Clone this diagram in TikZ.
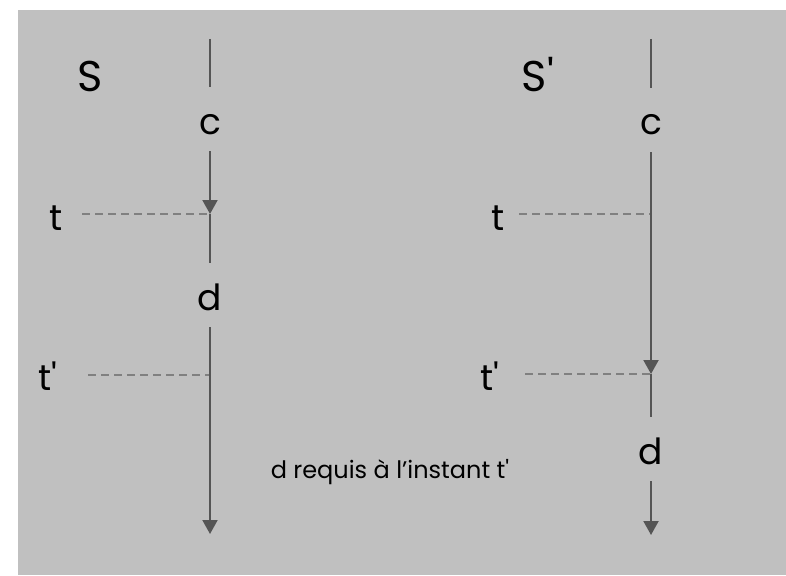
\documentclass[tikz,border=0pt]{standalone}
\usepackage{fontspec}
\setmainfont{Poppins}
\usetikzlibrary{arrows.meta}
\definecolor{bggray}{HTML}{C0C0C0}
\definecolor{linegray}{HTML}{555555}
\definecolor{dashgray}{HTML}{808080}
\begin{document}
\begin{tikzpicture}[x=1pt,y=-1pt,
  axis/.style={draw=linegray,line width=2pt},
  arr/.style={axis,-{Triangle[length=14pt,width=15pt]}},
  dashln/.style={draw=dashgray,line width=2pt,dash pattern=on 8pt off 5pt},
  lbl/.style={inner sep=0pt,outer sep=0pt,text depth=0pt,anchor=base,font=\fontsize{36}{36}\selectfont},
  biglbl/.style={lbl,font=\fontsize{43}{43}\selectfont},
  small/.style={inner sep=0pt,anchor=base,font=\fontsize{24}{24}\selectfont}]
\useasboundingbox (0,0) rectangle (786,575);
\fill[bggray] (18,10) rectangle (786,575);
% titles
\node[biglbl] (SL) at (90,92) {S};
\node[biglbl] (SR) at (538,92) {S\textquotesingle};
% left axis
\coordinate (L0) at (210,39);
\node[lbl,text height=19pt] (cL) at (210,134) {c};
\coordinate (tL) at (210,214);
\node[lbl,text height=30pt] (dL) at (210,310) {d};
\coordinate (tpL) at (210,375);
\coordinate (L1) at (210,534);
\node[lbl,text height=23pt] (tlabL) at (56,230) {t};
\node[lbl,text height=23pt] (tplabL) at (48,390) {t\textquotesingle};
\coordinate (dsL) at (82,214);
\coordinate (dspL) at (88,375);
% right axis
\coordinate (R0) at (651,39);
\node[lbl,text height=19pt] (cR) at (651,135) {c};
\coordinate (tR) at (651,214);
\coordinate (tpR) at (651,374);
\node[lbl,text height=30pt] (dR) at (651,464) {d};
\coordinate (R1) at (651,535);
\node[lbl,text height=23pt] (tlabR) at (498,230) {t};
\node[lbl,text height=23pt] (tplabR) at (490,390) {t\textquotesingle};
\coordinate (dsR) at (519,214);
\coordinate (dspR) at (525,374);
% caption
\node[small] (req) at (390,478) {d requis à l’instant t\textquotesingle};
% dashed guides
\draw[dashln] (dsL) -- (tL);
\draw[dashln] (dspL) -- (tpL);
\draw[dashln] (dsR) -- (tR);
\draw[dashln] (dspR) -- (tpR);
% left lines
\draw[axis,shorten >=28pt] (L0) -- (cL);
\draw[arr,shorten <=17pt] (cL) -- (tL);
\draw[axis,shorten >=17pt] (tL) -- (dL);
\draw[arr,shorten <=17pt] (dL) -- (L1);
% right lines
\draw[axis,shorten >=28pt] (R0) -- (cR);
\draw[arr,shorten <=17pt] (cR) -- (tpR);
\draw[axis,shorten >=17pt] (tpR) -- (dR);
\draw[arr,shorten <=17pt] (dR) -- (R1);
\end{tikzpicture}
\end{document}
